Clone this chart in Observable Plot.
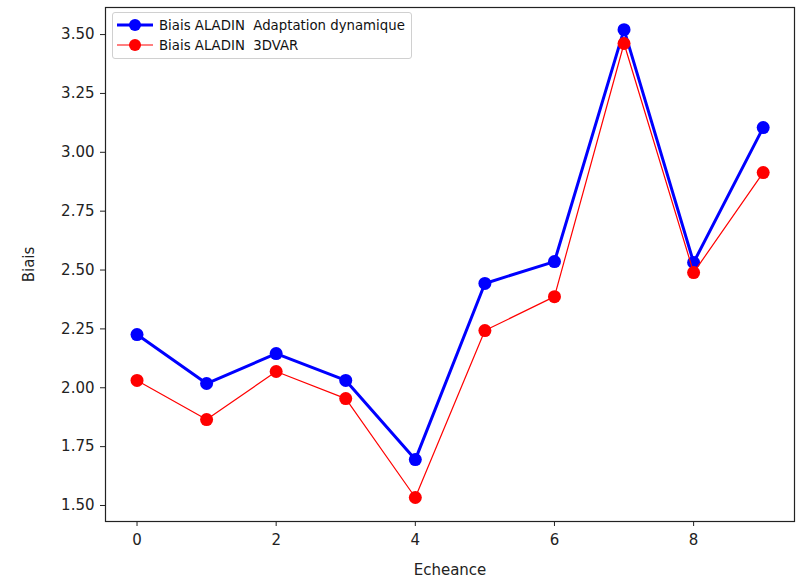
<!DOCTYPE html>
<html>
<head>
<meta charset="utf-8">
<script src="https://cdn.jsdelivr.net/npm/d3@7"></script>
<script src="https://cdn.jsdelivr.net/npm/@observablehq/plot@0.6"></script>
<style>
  body { margin: 0; background: #fff; font-family: "DejaVu Sans", sans-serif; }
  #wrap { position: relative; width: 799px; height: 581px; }
  #legend {
    position: absolute; left: 112px; top: 12px;
    border: 1px solid #d0d0d0; border-radius: 3px; background: rgba(255,255,255,0.8);
    padding: 2px 6px 3px 2px; font-size: 13.3px; color: #111;
  }
  .row { display: flex; align-items: center; height: 20px; white-space: pre; }
  .row svg { margin-right: 4px; }
</style>
</head>
<body>
<div id="wrap">
  <div id="chart"></div>
  <div id="legend"></div>
</div>
<script>
const echeance = [0, 1, 2, 3, 4, 5, 6, 7, 8, 9];
const biaisAdaptation = [2.226, 2.018, 2.145, 2.031, 1.695, 2.443, 2.536, 3.521, 2.532, 3.105];
const biais3dvar = [2.031, 1.865, 2.069, 1.954, 1.534, 2.243, 2.387, 3.462, 2.489, 2.914];
const seriesNames = ["Biais ALADIN  Adaptation dynamique", "Biais ALADIN  3DVAR"];
const seriesColors = ["blue", "red"];
const xTicks = [0, 2, 4, 6, 8];
const yTicks = [1.5, 1.75, 2.0, 2.25, 2.5, 2.75, 3.0, 3.25, 3.5];

const dataA = echeance.map((e, i) => ({x: e, y: biaisAdaptation[i]}));
const dataB = echeance.map((e, i) => ({x: e, y: biais3dvar[i]}));

const chart = Plot.plot({
  width: 799,
  height: 581,
  marginLeft: 105,
  marginRight: 5,
  marginTop: 7,
  marginBottom: 60,
  style: {fontFamily: "DejaVu Sans", fontSize: "15px", color: "#222", background: "white"},
  x: {domain: [-0.453, 9.45]},
  y: {domain: [1.432, 3.615]},
  marks: [
    Plot.axisX({ticks: xTicks, tickSize: 5, tickPadding: 8, tickFormat: d => String(d), label: "Echeance", labelAnchor: "center", labelOffset: 53, labelArrow: "none", fontSize: 15}),
    Plot.axisY({ticks: yTicks, tickSize: 5, tickPadding: 6, tickFormat: d3.format(".2f"), label: "Biais", labelAnchor: "center", labelOffset: 82, labelArrow: "none", fontSize: 15}),
    Plot.line(dataA, {x: "x", y: "y", stroke: seriesColors[0], strokeWidth: 3}),
    Plot.dot(dataA, {x: "x", y: "y", fill: seriesColors[0], r: 6.5}),
    Plot.line(dataB, {x: "x", y: "y", stroke: seriesColors[1], strokeWidth: 1.2}),
    Plot.dot(dataB, {x: "x", y: "y", fill: seriesColors[1], r: 6.5}),
    Plot.frame({stroke: "#222", strokeWidth: 1.2})
  ]
});
document.getElementById("chart").appendChild(chart);

const legend = document.getElementById("legend");
seriesNames.forEach((name, i) => {
  const row = document.createElement("div");
  row.className = "row";
  const w = i === 0 ? 3 : 1.2;
  row.innerHTML = `<svg width="40" height="16"><line x1="2" y1="8" x2="38" y2="8" stroke="${seriesColors[i]}" stroke-width="${w}"/><circle cx="20" cy="8" r="6" fill="${seriesColors[i]}"/></svg><span>${name}</span>`;
  legend.appendChild(row);
});
</script>
</body>
</html>
